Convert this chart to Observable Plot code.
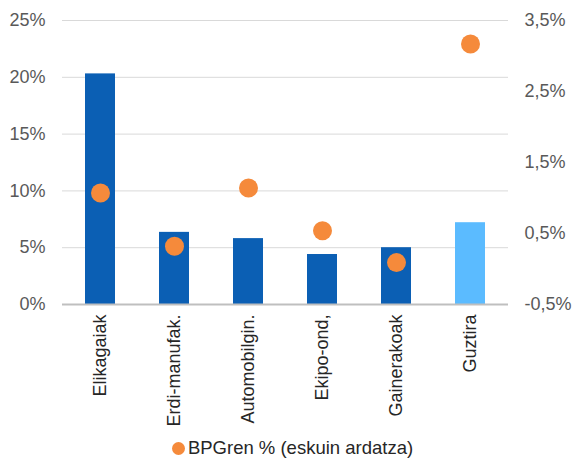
<!DOCTYPE html>
<html>
<head>
<meta charset="utf-8">
<script src="https://cdn.jsdelivr.net/npm/d3@7"></script>
<script src="https://cdn.jsdelivr.net/npm/@observablehq/plot@0.6"></script>
<style>
  body { margin: 0; background: #fff; font-family: "Liberation Sans", Arial, sans-serif; }
  #chart svg { display: block; }
  #legend { display: flex; align-items: center; justify-content: center; height: 22px; margin-top: 0px; padding-left: 10px; font-size: 18.5px; color: #262626; }
  #legend .dot { width: 13px; height: 13px; border-radius: 50%; background: #F58A3B; margin-right: 3px; }
</style>
</head>
<body>
<div id="chart"></div>
<div id="legend"><span class="dot"></span><span>BPGren % (eskuin ardatza)</span></div>
<script>
const categories = ["Elikagaiak", "Erdi-manufak.", "Automobilgin.", "Ekipo-ond,", "Gainerakoak", "Guztira"];
const barValues = [20.3, 6.35, 5.8, 4.4, 5.0, 7.2];          // left axis, %
const dotValues = [1.07, 0.32, 1.14, 0.54, 0.09, 3.17];        // right axis, % of GDP
const leftTicks = [0, 5, 10, 15, 20, 25];
const rightTicks = [-0.5, 0.5, 1.5, 2.5, 3.5];
const rightTickLabels = ["-0,5%", "0,5%", "1,5%", "2,5%", "3,5%"];
const rightDomain = [-0.5, 3.5];
const leftDomain = [0, 25];

const toLeft = v => leftDomain[0] + (v - rightDomain[0]) / (rightDomain[1] - rightDomain[0]) * (leftDomain[1] - leftDomain[0]);
const data = categories.map((c, i) => ({cat: c, bar: barValues[i], dot: dotValues[i], total: c === "Guztira"}));
const rightPos = rightTicks.map(toLeft);

const chart = Plot.plot({
  width: 575,
  height: 437,
  marginTop: 20,
  marginBottom: 133,
  marginLeft: 62,
  marginRight: 67,
  style: {fontFamily: "Liberation Sans, Arial, sans-serif", fontSize: "18px", background: "#fff"},
  x: {domain: categories, paddingInner: 0.6, paddingOuter: 0.3, label: null},
  y: {domain: leftDomain, label: null},
  marks: [
    Plot.ruleY(leftTicks.filter(d => d > 0), {stroke: "#d9d9d9", strokeWidth: 1}),
    Plot.barY(data, {x: "cat", y: "bar", fill: d => d.total ? "#5BBBFF" : "#0B5FB4"}),
    Plot.ruleY([0], {stroke: "#bfbfbf", strokeWidth: 2}),
    Plot.dot(data, {x: "cat", y: d => toLeft(d.dot), r: 9.5, fill: "#F58A3B", stroke: "none"}),
    Plot.axisY(leftTicks, {anchor: "left", tickSize: 0, tickPadding: 17, tickFormat: d => d + "%", fill: "#595959", fontSize: 18, label: null}),
    Plot.axisY(rightPos, {anchor: "right", tickSize: 0, tickPadding: 16, textAnchor: "start", tickFormat: d => rightTickLabels[rightPos.indexOf(d)], fill: "#595959", fontSize: 18, label: null}),
    Plot.axisX({tickSize: 0, tickPadding: 10, tickRotate: -90, fill: "#262626", fontSize: 18, label: null})
  ]
});
document.getElementById("chart").appendChild(chart);
</script>
</body>
</html>
